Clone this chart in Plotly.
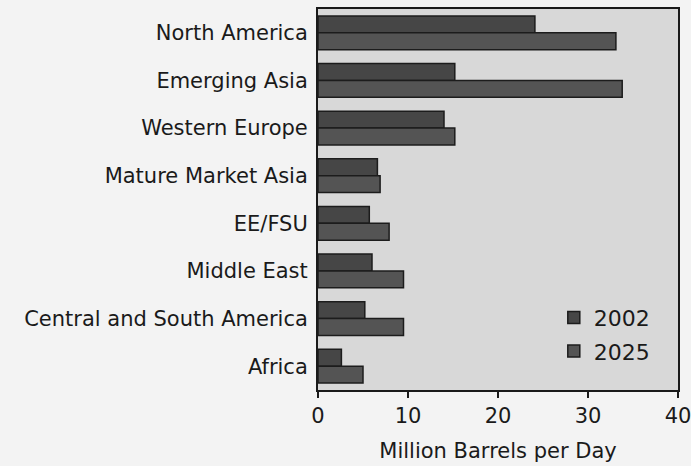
import plotly.graph_objects as go

# World oil consumption by region, million barrels per day
regions = [
    "North America",
    "Emerging Asia",
    "Western Europe",
    "Mature Market Asia",
    "EE/FSU",
    "Middle East",
    "Central and South America",
    "Africa",
]
consumption_2002 = [24.1, 15.2, 14.0, 6.6, 5.7, 6.0, 5.2, 2.6]
consumption_2025 = [33.1, 33.8, 15.2, 6.9, 7.9, 9.5, 9.5, 5.0]
x_ticks = [0, 10, 20, 30, 40]

FONT = "DejaVu Sans"
TEXT = "#1a1a1a"

fig = go.Figure()
fig.add_trace(go.Bar(
    y=regions, x=consumption_2002, orientation="h", name="2002",
    legendgroup="a",
    marker=dict(color="#464646", line=dict(color="#1c1c1c", width=1.5)),
))
fig.add_trace(go.Bar(
    y=regions, x=consumption_2025, orientation="h", name="2025",
    legendgroup="b",
    marker=dict(color="#545454", line=dict(color="#1c1c1c", width=1.5)),
))

fig.update_layout(
    width=691, height=466,
    margin=dict(l=318, r=13, t=9, b=76),
    barmode="group", bargap=0.29, bargroupgap=0,
    paper_bgcolor="#f3f3f3",
    plot_bgcolor="#d8d8d8",
    font=dict(family=FONT, size=21, color=TEXT),
    legend=dict(
        x=0.655, y=0.245, xanchor="left", yanchor="top",
        bgcolor="rgba(0,0,0,0)", font=dict(size=22, color=TEXT),
        traceorder="grouped", tracegroupgap=2, itemwidth=30,
    ),
    xaxis=dict(
        range=[0, 40], tickvals=x_ticks, ticktext=[str(v) for v in x_ticks],
        showgrid=False, zeroline=False,
        showline=True, linecolor="#1a1a1a", linewidth=2, mirror=True,
        ticks="outside", ticklen=6, tickwidth=2, tickcolor="#1a1a1a",
        ticklabeloverflow="allow",
        title=dict(text="Million Barrels per Day", standoff=16,
                   font=dict(size=21, color=TEXT)),
        automargin=False,
        fixedrange=True,
    ),
    yaxis=dict(
        autorange="reversed", showgrid=False, zeroline=False,
        showline=True, linecolor="#1a1a1a", linewidth=2, mirror=True,
        ticks="", ticklabelstandoff=4,
        fixedrange=True,
    ),
)

fig.write_html("out.html")
